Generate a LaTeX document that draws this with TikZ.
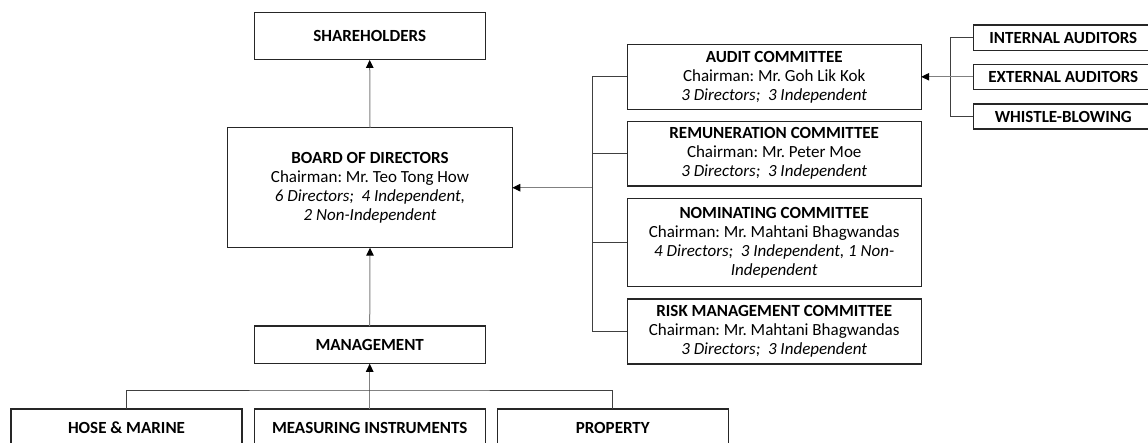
\documentclass[tikz,border=0pt]{standalone}
\usepackage{fontspec}
\setmainfont{Carlito}
\usetikzlibrary{arrows.meta}
\frenchspacing
\begin{document}
\begin{tikzpicture}[x=1pt,y=-1pt,
  box/.style={draw=black!85,line width=1.1pt,inner sep=0pt,outer sep=0pt,align=center,
    font=\fontsize{17}{19}\selectfont},
  tree/.style={draw=black!75,line width=1pt},
  arr/.style={draw=black!50,line width=1pt,-{Triangle[length=8pt,width=7.5pt,color=black]}}]
\useasboundingbox (0,0) rectangle (1148,443);
% main column
\node[box,minimum width=230.7pt,minimum height=47.3pt] (sh) at (369.7,36.3) {\textbf{SHAREHOLDERS}};
\node[box,minimum width=284.6pt,minimum height=120pt] (bod) at (370,187.7)
  {\textbf{BOARD OF DIRECTORS}\\Chairman: Mr. Teo Tong How\\\textit{6 Directors;\ \ 4 Independent,}\\\textit{2 Non-Independent}};
\node[box,minimum width=230.7pt,minimum height=37.7pt] (mgmt) at (369.7,344.9) {\textbf{MANAGEMENT}};
\node[box,minimum width=231pt,minimum height=38pt] (hose) at (126.5,428) {\textbf{HOSE \& MARINE}};
\node[box,minimum width=230.7pt,minimum height=38pt] (meas) at (369.7,428) {\textbf{MEASURING INSTRUMENTS}};
\node[box,minimum width=231pt,minimum height=38pt] (prop) at (612.8,428) {\textbf{PROPERTY}};
% committees
\node[box,minimum width=294pt,minimum height=65pt] (audit) at (774.2,76.8)
  {\textbf{AUDIT COMMITTEE}\\Chairman: Mr. Goh Lik Kok\\\textit{3 Directors;\ \ 3 Independent}};
\node[box,minimum width=294pt,minimum height=64.7pt] (remun) at (774.2,153.7)
  {\textbf{REMUNERATION COMMITTEE}\\Chairman: Mr. Peter Moe\\\textit{3 Directors;\ \ 3 Independent}};
\node[box,minimum width=294pt,minimum height=88.4pt] (nom) at (774.2,242.5)
  {\textbf{NOMINATING COMMITTEE}\\Chairman: Mr. Mahtani Bhagwandas\\\textit{4 Directors;\ \ 3 Independent, 1 Non-}\\\textit{Independent}};
\node[box,minimum width=294pt,minimum height=65pt] (risk) at (774.2,331.5)
  {\textbf{RISK MANAGEMENT COMMITTEE}\\Chairman: Mr. Mahtani Bhagwandas\\\textit{3 Directors;\ \ 3 Independent}};
% auditors
\node[box,minimum width=180pt,minimum height=25.3pt] (int) at (1063.3,37.7) {\textbf{INTERNAL AUDITORS}};
\node[box,minimum width=180pt,minimum height=25pt] (ext) at (1063.3,76.8) {\textbf{EXTERNAL AUDITORS}};
\node[box,minimum width=180pt,minimum height=25pt] (wb) at (1063.3,116.5) {\textbf{WHISTLE-BLOWING}};
% junction coordinates
\coordinate (trunk) at (592.3,187.7);
\coordinate (rb) at (950.7,76.8);
\coordinate (bus) at (369.7,390);
% connectors
\draw[arr] (bod.north) -- (sh.south);
\draw[arr] (mgmt.north) -- (bod.south);
\draw[arr] (meas.north) -- (mgmt.south);
\draw[tree] (hose.north) |- (bus) -| (prop.north);
\draw[tree] (audit.west) -| (trunk) |- (risk.west);
\draw[tree] (remun.west) -- (remun.west -| trunk);
\draw[tree] (nom.west) -- (nom.west -| trunk);
\draw[arr] (trunk) -- (bod.east);
\draw[tree] (int.west) -| (rb) |- (wb.west);
\draw[arr] (ext.west) -- (audit.east);
\end{tikzpicture}
\end{document}
